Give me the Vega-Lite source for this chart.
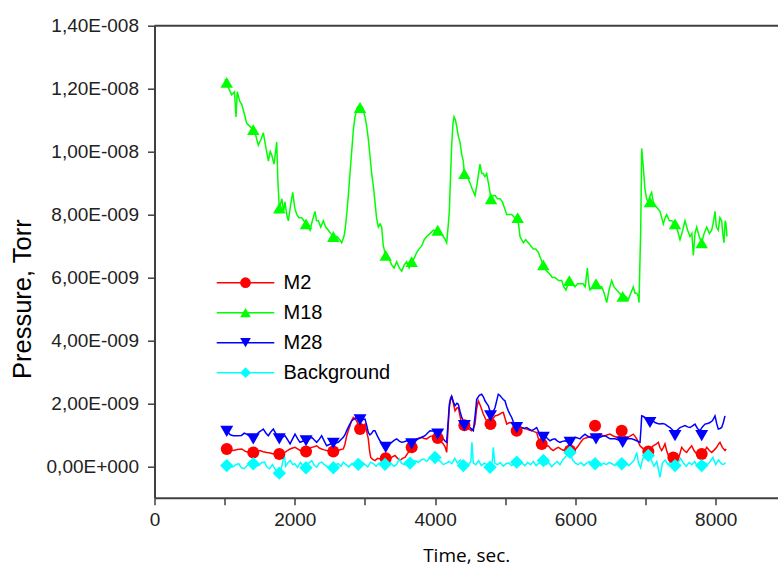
{
  "$schema": "https://vega.github.io/schema/vega-lite/v6.json",
  "width": 623.5,
  "height": 472,
  "autosize": {"type": "none"},
  "padding": {"left": 154.5, "top": 25.7, "right": 0, "bottom": 71.3},
  "background": "white",
  "config": {"view": {"stroke": null}, "font": "Liberation Sans"},
  "resolve": {"scale": {"color": "independent", "shape": "independent"}, "legend": {"color": "independent", "shape": "independent"}},
  "datasets": {
    "lines": [
      {"s":"M2","t":1000,"p":0.55e-9},{"s":"M2","t":1060,"p":0.52e-9},{"s":"M2","t":1123,"p":0.5e-9},{"s":"M2","t":1180,"p":0.53e-9},{"s":"M2","t":1243,"p":0.55e-9},{"s":"M2","t":1290,"p":0.48e-9},{"s":"M2","t":1337,"p":0.44e-9},{"s":"M2","t":1408,"p":0.44e-9},{"s":"M2","t":1460,"p":0.47e-9},{"s":"M2","t":1504,"p":0.5e-9},{"s":"M2","t":1550,"p":0.46e-9},{"s":"M2","t":1599,"p":0.44e-9},{"s":"M2","t":1650,"p":0.42e-9},{"s":"M2","t":1694,"p":0.39e-9},{"s":"M2","t":1740,"p":0.41e-9},{"s":"M2","t":1789,"p":0.39e-9},{"s":"M2","t":1825,"p":0.42e-9},{"s":"M2","t":1860,"p":0.44e-9},{"s":"M2","t":1895,"p":0.5e-9},{"s":"M2","t":1932,"p":0.55e-9},{"s":"M2","t":1970,"p":0.58e-9},{"s":"M2","t":2003,"p":0.6e-9},{"s":"M2","t":2040,"p":0.55e-9},{"s":"M2","t":2074,"p":0.5e-9},{"s":"M2","t":2120,"p":0.52e-9},{"s":"M2","t":2160,"p":0.5e-9},{"s":"M2","t":2200,"p":0.56e-9},{"s":"M2","t":2241,"p":0.6e-9},{"s":"M2","t":2275,"p":0.62e-9},{"s":"M2","t":2312,"p":0.65e-9},{"s":"M2","t":2350,"p":0.58e-9},{"s":"M2","t":2383,"p":0.55e-9},{"s":"M2","t":2420,"p":0.52e-9},{"s":"M2","t":2454,"p":0.5e-9},{"s":"M2","t":2500,"p":0.49e-9},{"s":"M2","t":2540,"p":0.47e-9},{"s":"M2","t":2580,"p":0.52e-9},{"s":"M2","t":2620,"p":0.5e-9},{"s":"M2","t":2655,"p":0.53e-9},{"s":"M2","t":2692,"p":0.55e-9},{"s":"M2","t":2715,"p":0.7e-9},{"s":"M2","t":2740,"p":0.97e-9},{"s":"M2","t":2765,"p":1.15e-9},{"s":"M2","t":2787,"p":1.29e-9},{"s":"M2","t":2810,"p":1.45e-9},{"s":"M2","t":2834,"p":1.55e-9},{"s":"M2","t":2860,"p":1.5e-9},{"s":"M2","t":2882,"p":1.44e-9},{"s":"M2","t":2905,"p":1.3e-9},{"s":"M2","t":2930,"p":1.18e-9},{"s":"M2","t":2965,"p":1.25e-9},{"s":"M2","t":3001,"p":1.34e-9},{"s":"M2","t":3025,"p":1.1e-9},{"s":"M2","t":3048,"p":0.87e-9},{"s":"M2","t":3065,"p":0.5e-9},{"s":"M2","t":3082,"p":0.28e-9},{"s":"M2","t":3110,"p":0.22e-9},{"s":"M2","t":3143,"p":0.18e-9},{"s":"M2","t":3180,"p":0.25e-9},{"s":"M2","t":3214,"p":0.23e-9},{"s":"M2","t":3250,"p":0.3e-9},{"s":"M2","t":3286,"p":0.28e-9},{"s":"M2","t":3320,"p":0.2e-9},{"s":"M2","t":3357,"p":0.23e-9},{"s":"M2","t":3390,"p":0.3e-9},{"s":"M2","t":3428,"p":0.34e-9},{"s":"M2","t":3465,"p":0.25e-9},{"s":"M2","t":3500,"p":0.18e-9},{"s":"M2","t":3535,"p":0.25e-9},{"s":"M2","t":3571,"p":0.28e-9},{"s":"M2","t":3620,"p":0.45e-9},{"s":"M2","t":3666,"p":0.6e-9},{"s":"M2","t":3700,"p":0.75e-9},{"s":"M2","t":3738,"p":0.87e-9},{"s":"M2","t":3775,"p":0.9e-9},{"s":"M2","t":3809,"p":0.92e-9},{"s":"M2","t":3845,"p":0.88e-9},{"s":"M2","t":3880,"p":0.87e-9},{"s":"M2","t":3930,"p":0.95e-9},{"s":"M2","t":3975,"p":0.97e-9},{"s":"M2","t":4010,"p":0.9e-9},{"s":"M2","t":4046,"p":0.87e-9},{"s":"M2","t":4080,"p":0.8e-9},{"s":"M2","t":4117,"p":0.71e-9},{"s":"M2","t":4145,"p":0.6e-9},{"s":"M2","t":4165,"p":0.44e-9},{"s":"M2","t":4185,"p":1.2e-9},{"s":"M2","t":4203,"p":1.86e-9},{"s":"M2","t":4220,"p":2.1e-9},{"s":"M2","t":4236,"p":2.23e-9},{"s":"M2","t":4260,"p":2.0e-9},{"s":"M2","t":4284,"p":1.76e-9},{"s":"M2","t":4310,"p":1.85e-9},{"s":"M2","t":4331,"p":1.86e-9},{"s":"M2","t":4355,"p":1.6e-9},{"s":"M2","t":4379,"p":1.34e-9},{"s":"M2","t":4415,"p":1.3e-9},{"s":"M2","t":4450,"p":1.23e-9},{"s":"M2","t":4485,"p":1.18e-9},{"s":"M2","t":4521,"p":1.13e-9},{"s":"M2","t":4545,"p":1.2e-9},{"s":"M2","t":4569,"p":1.34e-9},{"s":"M2","t":4590,"p":1.8e-9},{"s":"M2","t":4616,"p":2.08e-9},{"s":"M2","t":4650,"p":1.9e-9},{"s":"M2","t":4687,"p":1.66e-9},{"s":"M2","t":4720,"p":1.5e-9},{"s":"M2","t":4759,"p":1.34e-9},{"s":"M2","t":4783,"p":1.34e-9},{"s":"M2","t":4820,"p":1.5e-9},{"s":"M2","t":4854,"p":1.6e-9},{"s":"M2","t":4890,"p":1.62e-9},{"s":"M2","t":4925,"p":1.66e-9},{"s":"M2","t":4950,"p":1.7e-9},{"s":"M2","t":4972,"p":1.71e-9},{"s":"M2","t":5000,"p":1.5e-9},{"s":"M2","t":5021,"p":1.34e-9},{"s":"M2","t":5055,"p":1.38e-9},{"s":"M2","t":5092,"p":1.39e-9},{"s":"M2","t":5130,"p":1.32e-9},{"s":"M2","t":5163,"p":1.29e-9},{"s":"M2","t":5200,"p":1.25e-9},{"s":"M2","t":5234,"p":1.23e-9},{"s":"M2","t":5270,"p":1.2e-9},{"s":"M2","t":5306,"p":1.18e-9},{"s":"M2","t":5340,"p":1.15e-9},{"s":"M2","t":5377,"p":1.13e-9},{"s":"M2","t":5410,"p":1.1e-9},{"s":"M2","t":5448,"p":1.07e-9},{"s":"M2","t":5470,"p":0.9e-9},{"s":"M2","t":5495,"p":0.76e-9},{"s":"M2","t":5520,"p":0.68e-9},{"s":"M2","t":5543,"p":0.6e-9},{"s":"M2","t":5580,"p":0.63e-9},{"s":"M2","t":5614,"p":0.65e-9},{"s":"M2","t":5650,"p":0.55e-9},{"s":"M2","t":5685,"p":0.5e-9},{"s":"M2","t":5720,"p":0.56e-9},{"s":"M2","t":5757,"p":0.6e-9},{"s":"M2","t":5790,"p":0.55e-9},{"s":"M2","t":5828,"p":0.5e-9},{"s":"M2","t":5865,"p":0.55e-9},{"s":"M2","t":5899,"p":0.6e-9},{"s":"M2","t":5935,"p":0.5e-9},{"s":"M2","t":5970,"p":0.44e-9},{"s":"M2","t":6005,"p":0.55e-9},{"s":"M2","t":6042,"p":0.65e-9},{"s":"M2","t":6080,"p":0.78e-9},{"s":"M2","t":6113,"p":0.87e-9},{"s":"M2","t":6150,"p":0.9e-9},{"s":"M2","t":6184,"p":0.92e-9},{"s":"M2","t":6220,"p":0.95e-9},{"s":"M2","t":6255,"p":0.97e-9},{"s":"M2","t":6300,"p":1.0e-9},{"s":"M2","t":6351,"p":1.02e-9},{"s":"M2","t":6385,"p":0.98e-9},{"s":"M2","t":6422,"p":0.97e-9},{"s":"M2","t":6460,"p":1.0e-9},{"s":"M2","t":6493,"p":1.02e-9},{"s":"M2","t":6540,"p":0.96e-9},{"s":"M2","t":6589,"p":0.92e-9},{"s":"M2","t":6635,"p":0.95e-9},{"s":"M2","t":6683,"p":0.97e-9},{"s":"M2","t":6720,"p":0.94e-9},{"s":"M2","t":6754,"p":0.92e-9},{"s":"M2","t":6790,"p":0.97e-9},{"s":"M2","t":6825,"p":1.02e-9},{"s":"M2","t":6850,"p":0.95e-9},{"s":"M2","t":6874,"p":0.87e-9},{"s":"M2","t":6900,"p":0.75e-9},{"s":"M2","t":6921,"p":0.65e-9},{"s":"M2","t":6945,"p":0.6e-9},{"s":"M2","t":6968,"p":0.55e-9},{"s":"M2","t":7000,"p":0.52e-9},{"s":"M2","t":7039,"p":0.5e-9},{"s":"M2","t":7075,"p":0.58e-9},{"s":"M2","t":7110,"p":0.65e-9},{"s":"M2","t":7150,"p":0.7e-9},{"s":"M2","t":7182,"p":0.76e-9},{"s":"M2","t":7205,"p":0.6e-9},{"s":"M2","t":7230,"p":0.5e-9},{"s":"M2","t":7255,"p":0.6e-9},{"s":"M2","t":7277,"p":0.71e-9},{"s":"M2","t":7300,"p":0.5e-9},{"s":"M2","t":7325,"p":0.34e-9},{"s":"M2","t":7360,"p":0.3e-9},{"s":"M2","t":7396,"p":0.28e-9},{"s":"M2","t":7430,"p":0.25e-9},{"s":"M2","t":7467,"p":0.23e-9},{"s":"M2","t":7490,"p":0.4e-9},{"s":"M2","t":7515,"p":0.6e-9},{"s":"M2","t":7550,"p":0.5e-9},{"s":"M2","t":7586,"p":0.44e-9},{"s":"M2","t":7620,"p":0.55e-9},{"s":"M2","t":7658,"p":0.65e-9},{"s":"M2","t":7690,"p":0.5e-9},{"s":"M2","t":7729,"p":0.39e-9},{"s":"M2","t":7765,"p":0.36e-9},{"s":"M2","t":7800,"p":0.34e-9},{"s":"M2","t":7835,"p":0.45e-9},{"s":"M2","t":7872,"p":0.6e-9},{"s":"M2","t":7910,"p":0.5e-9},{"s":"M2","t":7943,"p":0.44e-9},{"s":"M2","t":7980,"p":0.52e-9},{"s":"M2","t":8014,"p":0.6e-9},{"s":"M2","t":8040,"p":0.7e-9},{"s":"M2","t":8061,"p":0.76e-9},{"s":"M2","t":8095,"p":0.6e-9},{"s":"M2","t":8132,"p":0.5e-9},{"s":"M2","t":8150,"p":0.55e-9},
      {"s":"M18","t":1005,"p":12.3e-9},{"s":"M18","t":1060,"p":12.0e-9},{"s":"M18","t":1100,"p":11.8e-9},{"s":"M18","t":1140,"p":11.9e-9},{"s":"M18","t":1162,"p":11.1e-9},{"s":"M18","t":1180,"p":11.9e-9},{"s":"M18","t":1215,"p":11.6e-9},{"s":"M18","t":1243,"p":11.5e-9},{"s":"M18","t":1280,"p":11.2e-9},{"s":"M18","t":1314,"p":10.9e-9},{"s":"M18","t":1360,"p":10.8e-9},{"s":"M18","t":1408,"p":10.7e-9},{"s":"M18","t":1445,"p":10.5e-9},{"s":"M18","t":1480,"p":10.2e-9},{"s":"M18","t":1520,"p":10.4e-9},{"s":"M18","t":1551,"p":10.6e-9},{"s":"M18","t":1590,"p":10.1e-9},{"s":"M18","t":1623,"p":9.7e-9},{"s":"M18","t":1650,"p":10.0e-9},{"s":"M18","t":1670,"p":9.9e-9},{"s":"M18","t":1704,"p":9.6e-9},{"s":"M18","t":1742,"p":10.3e-9},{"s":"M18","t":1760,"p":9.0e-9},{"s":"M18","t":1779,"p":8.2e-9},{"s":"M18","t":1815,"p":8.5e-9},{"s":"M18","t":1840,"p":8.1e-9},{"s":"M18","t":1860,"p":8.4e-9},{"s":"M18","t":1885,"p":8.0e-9},{"s":"M18","t":1908,"p":7.8e-9},{"s":"M18","t":1940,"p":8.3e-9},{"s":"M18","t":1970,"p":8.7e-9},{"s":"M18","t":2000,"p":8.2e-9},{"s":"M18","t":2027,"p":8.0e-9},{"s":"M18","t":2060,"p":7.9e-9},{"s":"M18","t":2098,"p":7.9e-9},{"s":"M18","t":2130,"p":7.8e-9},{"s":"M18","t":2160,"p":7.7e-9},{"s":"M18","t":2190,"p":7.6e-9},{"s":"M18","t":2217,"p":7.5e-9},{"s":"M18","t":2250,"p":7.8e-9},{"s":"M18","t":2288,"p":8.1e-9},{"s":"M18","t":2310,"p":7.8e-9},{"s":"M18","t":2335,"p":7.8e-9},{"s":"M18","t":2370,"p":7.6e-9},{"s":"M18","t":2406,"p":7.8e-9},{"s":"M18","t":2440,"p":7.6e-9},{"s":"M18","t":2478,"p":7.5e-9},{"s":"M18","t":2510,"p":7.4e-9},{"s":"M18","t":2549,"p":7.3e-9},{"s":"M18","t":2600,"p":7.3e-9},{"s":"M18","t":2640,"p":7.2e-9},{"s":"M18","t":2668,"p":7.1e-9},{"s":"M18","t":2700,"p":7.3e-9},{"s":"M18","t":2716,"p":7.5e-9},{"s":"M18","t":2740,"p":8.0e-9},{"s":"M18","t":2763,"p":8.6e-9},{"s":"M18","t":2790,"p":9.4e-9},{"s":"M18","t":2811,"p":10.0e-9},{"s":"M18","t":2835,"p":10.7e-9},{"s":"M18","t":2858,"p":11.1e-9},{"s":"M18","t":2890,"p":11.4e-9},{"s":"M18","t":2930,"p":11.5e-9},{"s":"M18","t":2965,"p":11.4e-9},{"s":"M18","t":3001,"p":11.1e-9},{"s":"M18","t":3025,"p":10.8e-9},{"s":"M18","t":3048,"p":10.4e-9},{"s":"M18","t":3070,"p":9.9e-9},{"s":"M18","t":3096,"p":9.3e-9},{"s":"M18","t":3120,"p":8.9e-9},{"s":"M18","t":3143,"p":8.4e-9},{"s":"M18","t":3165,"p":7.9e-9},{"s":"M18","t":3191,"p":7.6e-9},{"s":"M18","t":3215,"p":7.7e-9},{"s":"M18","t":3238,"p":7.6e-9},{"s":"M18","t":3262,"p":7.0e-9},{"s":"M18","t":3296,"p":6.7e-9},{"s":"M18","t":3340,"p":6.6e-9},{"s":"M18","t":3381,"p":6.4e-9},{"s":"M18","t":3415,"p":6.3e-9},{"s":"M18","t":3452,"p":6.5e-9},{"s":"M18","t":3490,"p":6.3e-9},{"s":"M18","t":3524,"p":6.2e-9},{"s":"M18","t":3560,"p":6.4e-9},{"s":"M18","t":3595,"p":6.5e-9},{"s":"M18","t":3630,"p":6.3e-9},{"s":"M18","t":3666,"p":6.5e-9},{"s":"M18","t":3700,"p":6.6e-9},{"s":"M18","t":3738,"p":6.8e-9},{"s":"M18","t":3770,"p":6.9e-9},{"s":"M18","t":3809,"p":7.0e-9},{"s":"M18","t":3845,"p":7.2e-9},{"s":"M18","t":3880,"p":7.3e-9},{"s":"M18","t":3930,"p":7.4e-9},{"s":"M18","t":3975,"p":7.5e-9},{"s":"M18","t":4037,"p":7.5e-9},{"s":"M18","t":4080,"p":7.4e-9},{"s":"M18","t":4117,"p":7.3e-9},{"s":"M18","t":4145,"p":7.2e-9},{"s":"M18","t":4165,"p":7.1e-9},{"s":"M18","t":4185,"p":7.6e-9},{"s":"M18","t":4203,"p":8.1e-9},{"s":"M18","t":4220,"p":9.2e-9},{"s":"M18","t":4236,"p":10.2e-9},{"s":"M18","t":4255,"p":10.9e-9},{"s":"M18","t":4270,"p":11.1e-9},{"s":"M18","t":4290,"p":11.0e-9},{"s":"M18","t":4308,"p":10.8e-9},{"s":"M18","t":4330,"p":10.5e-9},{"s":"M18","t":4355,"p":10.3e-9},{"s":"M18","t":4380,"p":9.9e-9},{"s":"M18","t":4402,"p":9.7e-9},{"s":"M18","t":4417,"p":9.3e-9},{"s":"M18","t":4460,"p":9.2e-9},{"s":"M18","t":4497,"p":9.0e-9},{"s":"M18","t":4530,"p":8.8e-9},{"s":"M18","t":4569,"p":8.6e-9},{"s":"M18","t":4600,"p":9.0e-9},{"s":"M18","t":4640,"p":9.6e-9},{"s":"M18","t":4665,"p":9.3e-9},{"s":"M18","t":4687,"p":9.3e-9},{"s":"M18","t":4711,"p":9.2e-9},{"s":"M18","t":4735,"p":9.3e-9},{"s":"M18","t":4760,"p":9.0e-9},{"s":"M18","t":4797,"p":8.5e-9},{"s":"M18","t":4830,"p":8.6e-9},{"s":"M18","t":4854,"p":8.6e-9},{"s":"M18","t":4890,"p":8.5e-9},{"s":"M18","t":4925,"p":8.5e-9},{"s":"M18","t":4960,"p":8.4e-9},{"s":"M18","t":4990,"p":8.2e-9},{"s":"M18","t":5021,"p":8.0e-9},{"s":"M18","t":5060,"p":8.0e-9},{"s":"M18","t":5092,"p":8.0e-9},{"s":"M18","t":5135,"p":7.9e-9},{"s":"M18","t":5177,"p":7.9e-9},{"s":"M18","t":5195,"p":7.6e-9},{"s":"M18","t":5210,"p":7.3e-9},{"s":"M18","t":5258,"p":7.1e-9},{"s":"M18","t":5290,"p":7.2e-9},{"s":"M18","t":5329,"p":7.1e-9},{"s":"M18","t":5365,"p":7.0e-9},{"s":"M18","t":5400,"p":6.9e-9},{"s":"M18","t":5435,"p":6.9e-9},{"s":"M18","t":5471,"p":6.8e-9},{"s":"M18","t":5505,"p":6.6e-9},{"s":"M18","t":5543,"p":6.4e-9},{"s":"M18","t":5590,"p":6.2e-9},{"s":"M18","t":5638,"p":6.1e-9},{"s":"M18","t":5670,"p":6.0e-9},{"s":"M18","t":5709,"p":6.0e-9},{"s":"M18","t":5760,"p":5.9e-9},{"s":"M18","t":5805,"p":5.9e-9},{"s":"M18","t":5835,"p":5.7e-9},{"s":"M18","t":5866,"p":5.6e-9},{"s":"M18","t":5913,"p":5.9e-9},{"s":"M18","t":5950,"p":5.8e-9},{"s":"M18","t":5994,"p":5.7e-9},{"s":"M18","t":6030,"p":5.8e-9},{"s":"M18","t":6066,"p":5.8e-9},{"s":"M18","t":6110,"p":5.8e-9},{"s":"M18","t":6140,"p":5.7e-9},{"s":"M18","t":6170,"p":6.3e-9},{"s":"M18","t":6190,"p":5.8e-9},{"s":"M18","t":6208,"p":5.6e-9},{"s":"M18","t":6250,"p":5.7e-9},{"s":"M18","t":6294,"p":5.8e-9},{"s":"M18","t":6335,"p":5.7e-9},{"s":"M18","t":6375,"p":5.7e-9},{"s":"M18","t":6410,"p":5.5e-9},{"s":"M18","t":6446,"p":5.2e-9},{"s":"M18","t":6480,"p":5.6e-9},{"s":"M18","t":6517,"p":5.9e-9},{"s":"M18","t":6550,"p":5.7e-9},{"s":"M18","t":6589,"p":5.6e-9},{"s":"M18","t":6630,"p":5.5e-9},{"s":"M18","t":6674,"p":5.4e-9},{"s":"M18","t":6715,"p":5.4e-9},{"s":"M18","t":6754,"p":5.3e-9},{"s":"M18","t":6790,"p":5.5e-9},{"s":"M18","t":6825,"p":5.7e-9},{"s":"M18","t":6850,"p":5.5e-9},{"s":"M18","t":6874,"p":5.5e-9},{"s":"M18","t":6895,"p":5.4e-9},{"s":"M18","t":6907,"p":5.2e-9},{"s":"M18","t":6920,"p":6.5e-9},{"s":"M18","t":6931,"p":7.5e-9},{"s":"M18","t":6945,"p":10.1e-9},{"s":"M18","t":6968,"p":9.5e-9},{"s":"M18","t":6992,"p":8.8e-9},{"s":"M18","t":7015,"p":8.5e-9},{"s":"M18","t":7039,"p":8.4e-9},{"s":"M18","t":7065,"p":8.6e-9},{"s":"M18","t":7087,"p":8.7e-9},{"s":"M18","t":7110,"p":8.4e-9},{"s":"M18","t":7135,"p":8.3e-9},{"s":"M18","t":7170,"p":8.2e-9},{"s":"M18","t":7206,"p":8.1e-9},{"s":"M18","t":7230,"p":7.9e-9},{"s":"M18","t":7253,"p":7.7e-9},{"s":"M18","t":7280,"p":7.9e-9},{"s":"M18","t":7301,"p":8.0e-9},{"s":"M18","t":7340,"p":7.8e-9},{"s":"M18","t":7373,"p":7.8e-9},{"s":"M18","t":7420,"p":7.7e-9},{"s":"M18","t":7455,"p":7.5e-9},{"s":"M18","t":7491,"p":7.2e-9},{"s":"M18","t":7530,"p":7.5e-9},{"s":"M18","t":7562,"p":7.8e-9},{"s":"M18","t":7600,"p":7.5e-9},{"s":"M18","t":7634,"p":7.3e-9},{"s":"M18","t":7660,"p":7.4e-9},{"s":"M18","t":7681,"p":6.7e-9},{"s":"M18","t":7705,"p":7.4e-9},{"s":"M18","t":7729,"p":7.6e-9},{"s":"M18","t":7765,"p":7.3e-9},{"s":"M18","t":7800,"p":7.1e-9},{"s":"M18","t":7835,"p":7.4e-9},{"s":"M18","t":7872,"p":7.6e-9},{"s":"M18","t":7910,"p":7.4e-9},{"s":"M18","t":7943,"p":7.5e-9},{"s":"M18","t":7970,"p":7.8e-9},{"s":"M18","t":7990,"p":8.1e-9},{"s":"M18","t":8010,"p":7.6e-9},{"s":"M18","t":8037,"p":7.5e-9},{"s":"M18","t":8060,"p":7.9e-9},{"s":"M18","t":8085,"p":7.8e-9},{"s":"M18","t":8100,"p":7.4e-9},{"s":"M18","t":8118,"p":7.1e-9},{"s":"M18","t":8135,"p":7.8e-9},{"s":"M18","t":8147,"p":7.7e-9},{"s":"M18","t":8160,"p":7.3e-9},
      {"s":"M28","t":1000,"p":1.13e-9},{"s":"M28","t":1040,"p":1.1e-9},{"s":"M28","t":1080,"p":1.0e-9},{"s":"M28","t":1123,"p":0.97e-9},{"s":"M28","t":1180,"p":0.97e-9},{"s":"M28","t":1240,"p":0.98e-9},{"s":"M28","t":1280,"p":1.05e-9},{"s":"M28","t":1314,"p":1.02e-9},{"s":"M28","t":1360,"p":0.95e-9},{"s":"M28","t":1408,"p":0.87e-9},{"s":"M28","t":1445,"p":0.95e-9},{"s":"M28","t":1480,"p":1.07e-9},{"s":"M28","t":1515,"p":1.12e-9},{"s":"M28","t":1551,"p":1.18e-9},{"s":"M28","t":1590,"p":1.05e-9},{"s":"M28","t":1623,"p":0.97e-9},{"s":"M28","t":1660,"p":1.1e-9},{"s":"M28","t":1694,"p":1.18e-9},{"s":"M28","t":1740,"p":1.0e-9},{"s":"M28","t":1779,"p":0.87e-9},{"s":"M28","t":1820,"p":0.92e-9},{"s":"M28","t":1860,"p":0.97e-9},{"s":"M28","t":1895,"p":0.85e-9},{"s":"M28","t":1932,"p":0.71e-9},{"s":"M28","t":1970,"p":0.88e-9},{"s":"M28","t":2003,"p":1.02e-9},{"s":"M28","t":2040,"p":0.88e-9},{"s":"M28","t":2074,"p":0.76e-9},{"s":"M28","t":2120,"p":0.8e-9},{"s":"M28","t":2160,"p":0.81e-9},{"s":"M28","t":2200,"p":0.86e-9},{"s":"M28","t":2241,"p":0.92e-9},{"s":"M28","t":2275,"p":0.84e-9},{"s":"M28","t":2312,"p":0.76e-9},{"s":"M28","t":2350,"p":0.86e-9},{"s":"M28","t":2383,"p":0.97e-9},{"s":"M28","t":2420,"p":0.8e-9},{"s":"M28","t":2454,"p":0.65e-9},{"s":"M28","t":2500,"p":0.7e-9},{"s":"M28","t":2540,"p":0.73e-9},{"s":"M28","t":2580,"p":0.74e-9},{"s":"M28","t":2620,"p":0.76e-9},{"s":"M28","t":2655,"p":0.84e-9},{"s":"M28","t":2692,"p":0.92e-9},{"s":"M28","t":2715,"p":1.0e-9},{"s":"M28","t":2740,"p":1.13e-9},{"s":"M28","t":2775,"p":1.3e-9},{"s":"M28","t":2811,"p":1.44e-9},{"s":"M28","t":2845,"p":1.5e-9},{"s":"M28","t":2882,"p":1.55e-9},{"s":"M28","t":2905,"p":1.5e-9},{"s":"M28","t":2930,"p":1.47e-9},{"s":"M28","t":2965,"p":1.48e-9},{"s":"M28","t":3001,"p":1.5e-9},{"s":"M28","t":3025,"p":1.3e-9},{"s":"M28","t":3048,"p":1.07e-9},{"s":"M28","t":3070,"p":1.0e-9},{"s":"M28","t":3096,"p":1.05e-9},{"s":"M28","t":3120,"p":1.13e-9},{"s":"M28","t":3143,"p":1.13e-9},{"s":"M28","t":3180,"p":0.95e-9},{"s":"M28","t":3214,"p":0.81e-9},{"s":"M28","t":3260,"p":0.7e-9},{"s":"M28","t":3310,"p":0.6e-9},{"s":"M28","t":3345,"p":0.7e-9},{"s":"M28","t":3381,"p":0.76e-9},{"s":"M28","t":3415,"p":0.82e-9},{"s":"M28","t":3452,"p":0.87e-9},{"s":"M28","t":3490,"p":0.8e-9},{"s":"M28","t":3524,"p":0.76e-9},{"s":"M28","t":3560,"p":0.78e-9},{"s":"M28","t":3595,"p":0.81e-9},{"s":"M28","t":3630,"p":0.78e-9},{"s":"M28","t":3666,"p":0.76e-9},{"s":"M28","t":3710,"p":0.8e-9},{"s":"M28","t":3761,"p":0.87e-9},{"s":"M28","t":3810,"p":0.92e-9},{"s":"M28","t":3856,"p":0.97e-9},{"s":"M28","t":3890,"p":1.05e-9},{"s":"M28","t":3927,"p":1.13e-9},{"s":"M28","t":3960,"p":1.12e-9},{"s":"M28","t":3999,"p":1.13e-9},{"s":"M28","t":4035,"p":1.08e-9},{"s":"M28","t":4070,"p":1.02e-9},{"s":"M28","t":4095,"p":0.95e-9},{"s":"M28","t":4117,"p":0.87e-9},{"s":"M28","t":4140,"p":0.8e-9},{"s":"M28","t":4165,"p":0.76e-9},{"s":"M28","t":4185,"p":1.4e-9},{"s":"M28","t":4203,"p":1.97e-9},{"s":"M28","t":4220,"p":2.15e-9},{"s":"M28","t":4236,"p":2.23e-9},{"s":"M28","t":4260,"p":2.05e-9},{"s":"M28","t":4284,"p":1.92e-9},{"s":"M28","t":4310,"p":2.0e-9},{"s":"M28","t":4331,"p":1.97e-9},{"s":"M28","t":4355,"p":1.75e-9},{"s":"M28","t":4379,"p":1.55e-9},{"s":"M28","t":4402,"p":1.45e-9},{"s":"M28","t":4426,"p":1.39e-9},{"s":"M28","t":4460,"p":1.3e-9},{"s":"M28","t":4497,"p":1.23e-9},{"s":"M28","t":4520,"p":1.18e-9},{"s":"M28","t":4545,"p":1.13e-9},{"s":"M28","t":4570,"p":1.6e-9},{"s":"M28","t":4593,"p":2.13e-9},{"s":"M28","t":4630,"p":2.25e-9},{"s":"M28","t":4664,"p":2.29e-9},{"s":"M28","t":4690,"p":2.2e-9},{"s":"M28","t":4711,"p":2.08e-9},{"s":"M28","t":4735,"p":2.0e-9},{"s":"M28","t":4759,"p":1.92e-9},{"s":"M28","t":4783,"p":1.75e-9},{"s":"M28","t":4807,"p":1.6e-9},{"s":"M28","t":4830,"p":1.75e-9},{"s":"M28","t":4854,"p":1.86e-9},{"s":"M28","t":4880,"p":2.1e-9},{"s":"M28","t":4901,"p":2.29e-9},{"s":"M28","t":4925,"p":2.25e-9},{"s":"M28","t":4949,"p":2.18e-9},{"s":"M28","t":4972,"p":2.12e-9},{"s":"M28","t":4996,"p":2.08e-9},{"s":"M28","t":5020,"p":1.9e-9},{"s":"M28","t":5044,"p":1.76e-9},{"s":"M28","t":5068,"p":1.65e-9},{"s":"M28","t":5092,"p":1.55e-9},{"s":"M28","t":5125,"p":1.35e-9},{"s":"M28","t":5163,"p":1.18e-9},{"s":"M28","t":5200,"p":1.22e-9},{"s":"M28","t":5234,"p":1.23e-9},{"s":"M28","t":5270,"p":1.2e-9},{"s":"M28","t":5306,"p":1.23e-9},{"s":"M28","t":5340,"p":1.18e-9},{"s":"M28","t":5377,"p":1.13e-9},{"s":"M28","t":5410,"p":1.17e-9},{"s":"M28","t":5448,"p":1.23e-9},{"s":"M28","t":5485,"p":1.05e-9},{"s":"M28","t":5520,"p":0.87e-9},{"s":"M28","t":5545,"p":0.92e-9},{"s":"M28","t":5567,"p":0.97e-9},{"s":"M28","t":5600,"p":0.88e-9},{"s":"M28","t":5638,"p":0.81e-9},{"s":"M28","t":5670,"p":0.85e-9},{"s":"M28","t":5709,"p":0.87e-9},{"s":"M28","t":5745,"p":0.8e-9},{"s":"M28","t":5781,"p":0.76e-9},{"s":"M28","t":5815,"p":0.79e-9},{"s":"M28","t":5852,"p":0.81e-9},{"s":"M28","t":5885,"p":0.78e-9},{"s":"M28","t":5923,"p":0.76e-9},{"s":"M28","t":5960,"p":0.85e-9},{"s":"M28","t":5994,"p":0.92e-9},{"s":"M28","t":6030,"p":0.9e-9},{"s":"M28","t":6066,"p":0.87e-9},{"s":"M28","t":6100,"p":0.95e-9},{"s":"M28","t":6137,"p":1.02e-9},{"s":"M28","t":6170,"p":0.96e-9},{"s":"M28","t":6208,"p":0.92e-9},{"s":"M28","t":6245,"p":0.9e-9},{"s":"M28","t":6280,"p":0.87e-9},{"s":"M28","t":6315,"p":0.9e-9},{"s":"M28","t":6351,"p":0.92e-9},{"s":"M28","t":6385,"p":0.95e-9},{"s":"M28","t":6422,"p":0.97e-9},{"s":"M28","t":6460,"p":0.92e-9},{"s":"M28","t":6493,"p":0.87e-9},{"s":"M28","t":6530,"p":0.87e-9},{"s":"M28","t":6565,"p":0.87e-9},{"s":"M28","t":6600,"p":0.85e-9},{"s":"M28","t":6636,"p":0.81e-9},{"s":"M28","t":6680,"p":0.84e-9},{"s":"M28","t":6731,"p":0.87e-9},{"s":"M28","t":6770,"p":0.87e-9},{"s":"M28","t":6803,"p":0.87e-9},{"s":"M28","t":6840,"p":0.84e-9},{"s":"M28","t":6874,"p":0.81e-9},{"s":"M28","t":6900,"p":0.78e-9},{"s":"M28","t":6921,"p":0.76e-9},{"s":"M28","t":6935,"p":1.2e-9},{"s":"M28","t":6945,"p":1.6e-9},{"s":"M28","t":6970,"p":1.58e-9},{"s":"M28","t":6992,"p":1.55e-9},{"s":"M28","t":7030,"p":1.52e-9},{"s":"M28","t":7063,"p":1.5e-9},{"s":"M28","t":7100,"p":1.45e-9},{"s":"M28","t":7135,"p":1.39e-9},{"s":"M28","t":7170,"p":1.36e-9},{"s":"M28","t":7206,"p":1.34e-9},{"s":"M28","t":7240,"p":1.36e-9},{"s":"M28","t":7277,"p":1.34e-9},{"s":"M28","t":7310,"p":1.28e-9},{"s":"M28","t":7349,"p":1.23e-9},{"s":"M28","t":7385,"p":1.15e-9},{"s":"M28","t":7420,"p":1.07e-9},{"s":"M28","t":7455,"p":1.15e-9},{"s":"M28","t":7491,"p":1.23e-9},{"s":"M28","t":7525,"p":1.26e-9},{"s":"M28","t":7562,"p":1.29e-9},{"s":"M28","t":7600,"p":1.25e-9},{"s":"M28","t":7634,"p":1.23e-9},{"s":"M28","t":7670,"p":1.28e-9},{"s":"M28","t":7705,"p":1.34e-9},{"s":"M28","t":7740,"p":1.2e-9},{"s":"M28","t":7776,"p":1.13e-9},{"s":"M28","t":7810,"p":1.25e-9},{"s":"M28","t":7848,"p":1.34e-9},{"s":"M28","t":7885,"p":1.36e-9},{"s":"M28","t":7919,"p":1.39e-9},{"s":"M28","t":7955,"p":1.45e-9},{"s":"M28","t":7990,"p":1.6e-9},{"s":"M28","t":8015,"p":1.35e-9},{"s":"M28","t":8037,"p":1.18e-9},{"s":"M28","t":8060,"p":1.2e-9},{"s":"M28","t":8085,"p":1.23e-9},{"s":"M28","t":8110,"p":1.4e-9},{"s":"M28","t":8132,"p":1.6e-9},
      {"s":"Background","t":1000,"p":0.02e-9},{"s":"Background","t":1040,"p":0.0},{"s":"Background","t":1080,"p":-0.03e-9},{"s":"Background","t":1123,"p":-0.02e-9},{"s":"Background","t":1160,"p":0.05e-9},{"s":"Background","t":1200,"p":0.08e-9},{"s":"Background","t":1240,"p":-0.05e-9},{"s":"Background","t":1280,"p":-0.08e-9},{"s":"Background","t":1320,"p":0.02e-9},{"s":"Background","t":1360,"p":0.06e-9},{"s":"Background","t":1408,"p":0.08e-9},{"s":"Background","t":1450,"p":0.0},{"s":"Background","t":1490,"p":0.03e-9},{"s":"Background","t":1530,"p":0.12e-9},{"s":"Background","t":1570,"p":0.13e-9},{"s":"Background","t":1600,"p":-0.02e-9},{"s":"Background","t":1640,"p":-0.08e-9},{"s":"Background","t":1680,"p":0.05e-9},{"s":"Background","t":1720,"p":-0.1e-9},{"s":"Background","t":1760,"p":-0.18e-9},{"s":"Background","t":1790,"p":-0.22e-9},{"s":"Background","t":1820,"p":0.05e-9},{"s":"Background","t":1850,"p":0.39e-9},{"s":"Background","t":1870,"p":0.0},{"s":"Background","t":1900,"p":0.1e-9},{"s":"Background","t":1935,"p":0.18e-9},{"s":"Background","t":1970,"p":0.05e-9},{"s":"Background","t":2000,"p":0.08e-9},{"s":"Background","t":2040,"p":-0.04e-9},{"s":"Background","t":2080,"p":0.12e-9},{"s":"Background","t":2120,"p":0.0},{"s":"Background","t":2160,"p":-0.05e-9},{"s":"Background","t":2200,"p":0.1e-9},{"s":"Background","t":2241,"p":0.18e-9},{"s":"Background","t":2280,"p":0.02e-9},{"s":"Background","t":2312,"p":-0.03e-9},{"s":"Background","t":2350,"p":0.1e-9},{"s":"Background","t":2383,"p":0.13e-9},{"s":"Background","t":2420,"p":0.05e-9},{"s":"Background","t":2454,"p":0.0},{"s":"Background","t":2500,"p":-0.05e-9},{"s":"Background","t":2540,"p":-0.08e-9},{"s":"Background","t":2580,"p":0.05e-9},{"s":"Background","t":2620,"p":0.08e-9},{"s":"Background","t":2660,"p":0.0},{"s":"Background","t":2692,"p":0.13e-9},{"s":"Background","t":2730,"p":0.05e-9},{"s":"Background","t":2770,"p":-0.02e-9},{"s":"Background","t":2811,"p":0.08e-9},{"s":"Background","t":2850,"p":0.05e-9},{"s":"Background","t":2890,"p":0.1e-9},{"s":"Background","t":2930,"p":0.06e-9},{"s":"Background","t":2970,"p":0.12e-9},{"s":"Background","t":3001,"p":0.05e-9},{"s":"Background","t":3040,"p":-0.02e-9},{"s":"Background","t":3080,"p":0.13e-9},{"s":"Background","t":3120,"p":0.08e-9},{"s":"Background","t":3160,"p":0.0},{"s":"Background","t":3200,"p":0.1e-9},{"s":"Background","t":3240,"p":0.05e-9},{"s":"Background","t":3290,"p":0.06e-9},{"s":"Background","t":3330,"p":0.15e-9},{"s":"Background","t":3370,"p":0.1e-9},{"s":"Background","t":3410,"p":0.0},{"s":"Background","t":3450,"p":0.05e-9},{"s":"Background","t":3490,"p":0.23e-9},{"s":"Background","t":3520,"p":0.1e-9},{"s":"Background","t":3560,"p":0.05e-9},{"s":"Background","t":3600,"p":0.08e-9},{"s":"Background","t":3642,"p":0.15e-9},{"s":"Background","t":3680,"p":0.12e-9},{"s":"Background","t":3720,"p":0.18e-9},{"s":"Background","t":3760,"p":0.12e-9},{"s":"Background","t":3800,"p":0.2e-9},{"s":"Background","t":3840,"p":0.23e-9},{"s":"Background","t":3880,"p":0.15e-9},{"s":"Background","t":3927,"p":0.28e-9},{"s":"Background","t":3960,"p":0.2e-9},{"s":"Background","t":3999,"p":0.3e-9},{"s":"Background","t":4040,"p":0.2e-9},{"s":"Background","t":4080,"p":0.15e-9},{"s":"Background","t":4117,"p":0.05e-9},{"s":"Background","t":4160,"p":0.1e-9},{"s":"Background","t":4200,"p":0.15e-9},{"s":"Background","t":4240,"p":0.08e-9},{"s":"Background","t":4280,"p":0.25e-9},{"s":"Background","t":4320,"p":0.1e-9},{"s":"Background","t":4360,"p":0.2e-9},{"s":"Background","t":4402,"p":0.02e-9},{"s":"Background","t":4440,"p":0.08e-9},{"s":"Background","t":4480,"p":0.05e-9},{"s":"Background","t":4510,"p":0.15e-9},{"s":"Background","t":4525,"p":0.76e-9},{"s":"Background","t":4545,"p":0.1e-9},{"s":"Background","t":4580,"p":0.05e-9},{"s":"Background","t":4620,"p":0.18e-9},{"s":"Background","t":4660,"p":0.02e-9},{"s":"Background","t":4700,"p":0.1e-9},{"s":"Background","t":4740,"p":0.05e-9},{"s":"Background","t":4783,"p":-0.03e-9},{"s":"Background","t":4815,"p":0.15e-9},{"s":"Background","t":4830,"p":0.6e-9},{"s":"Background","t":4850,"p":0.1e-9},{"s":"Background","t":4890,"p":0.05e-9},{"s":"Background","t":4930,"p":0.12e-9},{"s":"Background","t":4970,"p":0.0},{"s":"Background","t":5010,"p":0.08e-9},{"s":"Background","t":5050,"p":0.1e-9},{"s":"Background","t":5092,"p":0.02e-9},{"s":"Background","t":5130,"p":0.08e-9},{"s":"Background","t":5163,"p":0.13e-9},{"s":"Background","t":5200,"p":0.05e-9},{"s":"Background","t":5240,"p":0.1e-9},{"s":"Background","t":5280,"p":0.02e-9},{"s":"Background","t":5320,"p":0.12e-9},{"s":"Background","t":5360,"p":0.05e-9},{"s":"Background","t":5400,"p":0.15e-9},{"s":"Background","t":5440,"p":0.02e-9},{"s":"Background","t":5480,"p":0.1e-9},{"s":"Background","t":5543,"p":0.18e-9},{"s":"Background","t":5580,"p":0.05e-9},{"s":"Background","t":5620,"p":0.12e-9},{"s":"Background","t":5660,"p":-0.02e-9},{"s":"Background","t":5700,"p":0.08e-9},{"s":"Background","t":5740,"p":0.15e-9},{"s":"Background","t":5780,"p":0.05e-9},{"s":"Background","t":5820,"p":0.2e-9},{"s":"Background","t":5860,"p":0.3e-9},{"s":"Background","t":5923,"p":0.44e-9},{"s":"Background","t":5960,"p":0.2e-9},{"s":"Background","t":6000,"p":0.1e-9},{"s":"Background","t":6040,"p":0.05e-9},{"s":"Background","t":6080,"p":0.12e-9},{"s":"Background","t":6120,"p":0.02e-9},{"s":"Background","t":6160,"p":0.1e-9},{"s":"Background","t":6200,"p":0.15e-9},{"s":"Background","t":6240,"p":0.05e-9},{"s":"Background","t":6280,"p":0.08e-9},{"s":"Background","t":6320,"p":0.12e-9},{"s":"Background","t":6360,"p":0.02e-9},{"s":"Background","t":6400,"p":0.1e-9},{"s":"Background","t":6440,"p":0.05e-9},{"s":"Background","t":6480,"p":0.12e-9},{"s":"Background","t":6520,"p":0.08e-9},{"s":"Background","t":6560,"p":0.02e-9},{"s":"Background","t":6600,"p":0.1e-9},{"s":"Background","t":6640,"p":0.08e-9},{"s":"Background","t":6680,"p":0.05e-9},{"s":"Background","t":6720,"p":0.12e-9},{"s":"Background","t":6760,"p":0.02e-9},{"s":"Background","t":6800,"p":0.1e-9},{"s":"Background","t":6840,"p":0.2e-9},{"s":"Background","t":6874,"p":0.44e-9},{"s":"Background","t":6900,"p":0.1e-9},{"s":"Background","t":6930,"p":-0.05e-9},{"s":"Background","t":6960,"p":0.25e-9},{"s":"Background","t":7000,"p":0.3e-9},{"s":"Background","t":7039,"p":0.34e-9},{"s":"Background","t":7080,"p":0.2e-9},{"s":"Background","t":7120,"p":0.0},{"s":"Background","t":7160,"p":0.15e-9},{"s":"Background","t":7206,"p":-0.35e-9},{"s":"Background","t":7240,"p":0.1e-9},{"s":"Background","t":7280,"p":0.2e-9},{"s":"Background","t":7320,"p":0.05e-9},{"s":"Background","t":7360,"p":0.15e-9},{"s":"Background","t":7400,"p":0.05e-9},{"s":"Background","t":7420,"p":0.02e-9},{"s":"Background","t":7460,"p":0.1e-9},{"s":"Background","t":7500,"p":0.25e-9},{"s":"Background","t":7540,"p":0.1e-9},{"s":"Background","t":7580,"p":0.0},{"s":"Background","t":7620,"p":0.12e-9},{"s":"Background","t":7660,"p":0.05e-9},{"s":"Background","t":7700,"p":0.15e-9},{"s":"Background","t":7740,"p":0.0},{"s":"Background","t":7780,"p":0.08e-9},{"s":"Background","t":7800,"p":0.02e-9},{"s":"Background","t":7840,"p":0.12e-9},{"s":"Background","t":7880,"p":0.05e-9},{"s":"Background","t":7920,"p":0.15e-9},{"s":"Background","t":7960,"p":0.28e-9},{"s":"Background","t":8000,"p":0.05e-9},{"s":"Background","t":8040,"p":0.2e-9},{"s":"Background","t":8080,"p":0.08e-9},{"s":"Background","t":8110,"p":0.05e-9},{"s":"Background","t":8140,"p":0.12e-9}
    ],
    "marks": [
      {"s":"M2","t":1030,"p":0.55e-9},{"s":"M2","t":1408,"p":0.44e-9},{"s":"M2","t":1779,"p":0.39e-9},{"s":"M2","t":2160,"p":0.47e-9},{"s":"M2","t":2549,"p":0.47e-9},{"s":"M2","t":2930,"p":1.18e-9},{"s":"M2","t":3296,"p":0.25e-9},{"s":"M2","t":3666,"p":0.6e-9},{"s":"M2","t":4037,"p":0.9e-9},{"s":"M2","t":4417,"p":1.3e-9},{"s":"M2","t":4790,"p":1.34e-9},{"s":"M2","t":5163,"p":1.13e-9},{"s":"M2","t":5520,"p":0.71e-9},{"s":"M2","t":5923,"p":0.5e-9},{"s":"M2","t":6280,"p":1.29e-9},{"s":"M2","t":6660,"p":1.13e-9},{"s":"M2","t":7040,"p":0.47e-9},{"s":"M2","t":7396,"p":0.28e-9},{"s":"M2","t":7800,"p":0.39e-9},
      {"s":"M18","t":1030,"p":12.2e-9},{"s":"M18","t":1408,"p":10.7e-9},{"s":"M18","t":1779,"p":8.2e-9},{"s":"M18","t":2160,"p":7.7e-9},{"s":"M18","t":2549,"p":7.3e-9},{"s":"M18","t":2930,"p":11.4e-9},{"s":"M18","t":3296,"p":6.7e-9},{"s":"M18","t":3666,"p":6.5e-9},{"s":"M18","t":4037,"p":7.5e-9},{"s":"M18","t":4417,"p":9.3e-9},{"s":"M18","t":4797,"p":8.5e-9},{"s":"M18","t":5177,"p":7.9e-9},{"s":"M18","t":5543,"p":6.4e-9},{"s":"M18","t":5913,"p":5.9e-9},{"s":"M18","t":6294,"p":5.8e-9},{"s":"M18","t":6674,"p":5.4e-9},{"s":"M18","t":7063,"p":8.4e-9},{"s":"M18","t":7420,"p":7.7e-9},{"s":"M18","t":7800,"p":7.1e-9},
      {"s":"M28","t":1030,"p":1.11e-9},{"s":"M28","t":1408,"p":0.87e-9},{"s":"M28","t":1779,"p":0.87e-9},{"s":"M28","t":2160,"p":0.81e-9},{"s":"M28","t":2549,"p":0.73e-9},{"s":"M28","t":2930,"p":1.47e-9},{"s":"M28","t":3296,"p":0.6e-9},{"s":"M28","t":3666,"p":0.71e-9},{"s":"M28","t":4037,"p":1.02e-9},{"s":"M28","t":4417,"p":1.29e-9},{"s":"M28","t":4790,"p":1.6e-9},{"s":"M28","t":5163,"p":1.23e-9},{"s":"M28","t":5543,"p":0.92e-9},{"s":"M28","t":5923,"p":0.76e-9},{"s":"M28","t":6294,"p":0.87e-9},{"s":"M28","t":6674,"p":0.76e-9},{"s":"M28","t":7063,"p":1.39e-9},{"s":"M28","t":7420,"p":0.97e-9},{"s":"M28","t":7800,"p":0.97e-9},
      {"s":"Background","t":1030,"p":0.02e-9},{"s":"Background","t":1408,"p":0.08e-9},{"s":"Background","t":1779,"p":-0.22e-9},{"s":"Background","t":2160,"p":-0.05e-9},{"s":"Background","t":2549,"p":-0.05e-9},{"s":"Background","t":2905,"p":0.06e-9},{"s":"Background","t":3286,"p":0.06e-9},{"s":"Background","t":3642,"p":0.1e-9},{"s":"Background","t":3999,"p":0.28e-9},{"s":"Background","t":4402,"p":0.02e-9},{"s":"Background","t":4783,"p":-0.03e-9},{"s":"Background","t":5163,"p":0.13e-9},{"s":"Background","t":5543,"p":0.18e-9},{"s":"Background","t":5923,"p":0.44e-9},{"s":"Background","t":6280,"p":0.08e-9},{"s":"Background","t":6660,"p":0.08e-9},{"s":"Background","t":7039,"p":0.34e-9},{"s":"Background","t":7420,"p":0.02e-9},{"s":"Background","t":7800,"p":0.02e-9}
    ]
  },
  "layer": [
    {
      "data": {"values": [{"top": 1.4e-8}]},
      "mark": {"type": "rule", "color": "#404040", "strokeWidth": 2},
      "encoding": {"y": {"field": "top", "type": "quantitative"}}
    },
    {
      "data": {"name": "lines"},
      "mark": {"type": "line", "strokeWidth": 1.5},
      "encoding": {
        "x": {"field": "t", "type": "quantitative",
          "scale": {"domain": [0, 8888], "nice": false, "zero": false},
          "axis": {"values": [0,1000,2000,3000,4000,5000,6000,7000,8000], "format": "d",
            "labelExpr": "datum.value % 2000 === 0 ? datum.label : ''", "labelFlush": false, "labelOverlap": false,
            "grid": false, "domainColor": "#404040", "domainWidth": 2, "tickColor": "#404040", "tickWidth": 1.5, "tickSize": 7,
            "labelPadding": 6, "labelFontSize": 19, "labelColor": "#222222", "labelFont": "Liberation Sans",
            "title": "Time, sec.", "titleFont": "Open Sans", "titleFontSize": 19, "titleFontWeight": "normal", "titleColor": "#000000",
            "titleY": 58, "titleBaseline": "middle"}},
        "y": {"field": "p", "type": "quantitative",
          "scale": {"domain": [-1e-9, 1.4e-8], "nice": false, "zero": false},
          "axis": {"values": [0,1e-9,2e-9,3e-9,4e-9,5e-9,6e-9,7e-9,8e-9,9e-9,1e-8,1.1e-8,1.2e-8,1.3e-8,1.4e-8],
            "labelExpr": "datum.value == 0 ? '0,00E+000' : (round(datum.value*1e9) % 2 != 0 ? '' : (datum.value >= 9.9e-9 ? replace(format(datum.value*1e8, '.2f'), '.', ',') + 'E-008' : replace(format(datum.value*1e9, '.2f'), '.', ',') + 'E-009'))",
            "labelFlush": false, "labelOverlap": false,
            "grid": false, "domainColor": "#404040", "domainWidth": 2, "tickColor": "#404040", "tickWidth": 1.5, "tickSize": 7,
            "labelPadding": 9, "labelFontSize": 19, "labelColor": "#222222", "labelFont": "Liberation Sans",
            "title": "Pressure, Torr", "titleFont": "Liberation Sans", "titleFontSize": 25.5, "titleFontWeight": "normal", "titleColor": "#000000",
            "titleX": -132, "titleY": 273, "titleAlign": "center", "titleBaseline": "middle", "titleAngle": 270}},
        "color": {"field": "s", "type": "nominal",
          "scale": {"domain": ["M2", "M18", "M28", "Background"], "range": ["#ff0000", "#00ff00", "#0000ff", "#00ffff"]},
          "legend": {"title": null, "orient": "none", "legendX": 81, "legendY": 247, "padding": 0,
            "symbolType": "M-6,0H6", "symbolSize": 92, "symbolStrokeWidth": 1.5,
            "labelFontSize": 20, "labelFont": "Liberation Sans", "labelColor": "#000000",
            "labelOffset": 28, "rowPadding": 10, "labelExpr": "datum.label == 'Background' ? '\u00a0 Background' : datum.label"}}
      }
    },
    {
      "data": {"name": "marks"},
      "mark": {"type": "point", "filled": true, "opacity": 1},
      "encoding": {
        "x": {"field": "t", "type": "quantitative"},
        "y": {"field": "p", "type": "quantitative"},
        "color": {"field": "s", "type": "nominal",
          "scale": {"domain": ["M2", "M18", "M28", "Background"], "range": ["#ff0000", "#00ff00", "#0000ff", "#00ffff"]},
          "legend": {"title": null, "orient": "none", "legendX": 81, "legendY": 247, "padding": 0,
            "symbolSize": 115, "symbolOpacity": 1,
            "labelFontSize": 20, "labelFont": "Liberation Sans", "labelColor": "#000000",
            "labelOffset": 28, "rowPadding": 10, "labelExpr": "''"}},
        "shape": {"field": "s", "type": "nominal",
          "scale": {"domain": ["M2", "M18", "M28", "Background"], "range": ["circle", "triangle-up", "triangle-down", "diamond"]},
          "legend": {"title": null, "orient": "none", "legendX": 81, "legendY": 247, "padding": 0,
            "symbolSize": 115, "symbolOpacity": 1,
            "labelFontSize": 20, "labelFont": "Liberation Sans", "labelColor": "#000000",
            "labelOffset": 28, "rowPadding": 10, "labelExpr": "''"}},
        "size": {"field": "s", "type": "nominal",
          "scale": {"domain": ["M2", "M18", "M28", "Background"], "range": [144, 180, 180, 170]},
          "legend": null}
      }
    }
  ]
}
